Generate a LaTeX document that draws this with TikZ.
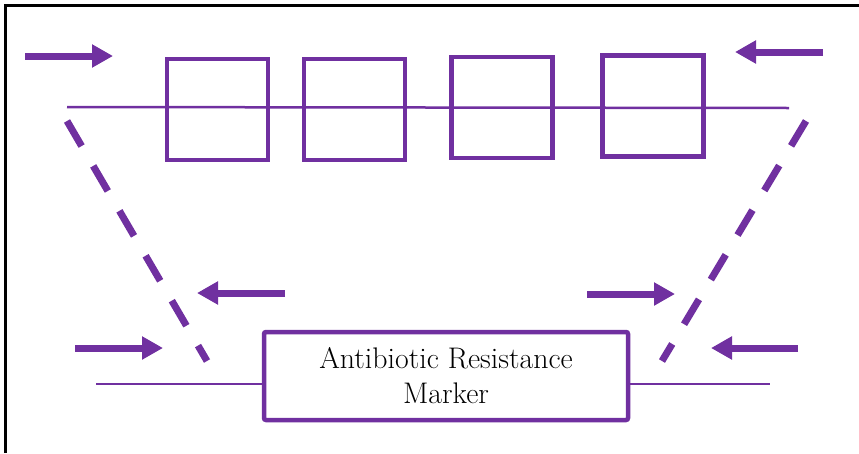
\documentclass[tikz,border=0pt]{standalone}
\usetikzlibrary{arrows.meta}
\definecolor{vpurple}{RGB}{112,48,160}
\begin{document}
\begin{tikzpicture}[x=1pt,y=-1pt,
  segbox/.style={draw=vpurple,line width=4.5pt,minimum width=101pt,minimum height=101pt,inner sep=0pt},
  markbox/.style={draw=vpurple,line width=4.5pt,minimum width=364pt,minimum height=88pt,inner sep=0pt,rounded corners=2pt,align=center,font=\fontsize{29.8}{35}\selectfont},
  thinline/.style={draw=vpurple,line width=2.5pt},
  dashline/.style={draw=vpurple,line width=7pt,dash pattern=on 29pt off 23pt},
  bigarrow/.style={draw=vpurple,line width=7pt,-{Triangle[length=21pt,width=22pt]}}]
\useasboundingbox (0,0) rectangle (859,453);
% frame edges
\draw[black,line width=3pt] (5,453) -- (5,5) -- (859,5);
% top strand
\coordinate (tl) at (67,107);
\coordinate (tr) at (789,108);
\draw[thinline] (tl) -- (tr);
\node[segbox] (b1) at (217.5,109.5) {};
\node[segbox] (b2) at (354.5,109.5) {};
\node[segbox] (b3) at (502,107.5) {};
\node[segbox] (b4) at (653,106) {};
% bottom strand
\node[markbox] (mk) at (446,376) {Antibiotic Resistance\\Marker};
\coordinate (bl) at (96,384);
\coordinate (br) at (770,384);
\draw[thinline] (bl) -- (bl -| mk.west);
\draw[thinline] (br -| mk.east) -- (br);
% dashed crossover lines
\coordinate (dl1) at (67,121);
\coordinate (dl2) at (207,361);
\coordinate (dr1) at (806,121);
\coordinate (dr2) at (662,361);
\draw[dashline] (dl1) -- (dl2);
\draw[dashline] (dr1) -- (dr2);
% arrows
\coordinate (a1s) at (25,56);   \coordinate (a1e) at (113,56);
\coordinate (a2s) at (823,52);  \coordinate (a2e) at (735,52);
\coordinate (a3s) at (285,293); \coordinate (a3e) at (197,293);
\coordinate (a4s) at (587,294); \coordinate (a4e) at (675,294);
\coordinate (a5s) at (75,348);  \coordinate (a5e) at (163,348);
\coordinate (a6s) at (798,348); \coordinate (a6e) at (711,348);
\draw[bigarrow] (a1s) -- (a1e);
\draw[bigarrow] (a2s) -- (a2e);
\draw[bigarrow] (a3s) -- (a3e);
\draw[bigarrow] (a4s) -- (a4e);
\draw[bigarrow] (a5s) -- (a5e);
\draw[bigarrow] (a6s) -- (a6e);
\end{tikzpicture}
\end{document}
